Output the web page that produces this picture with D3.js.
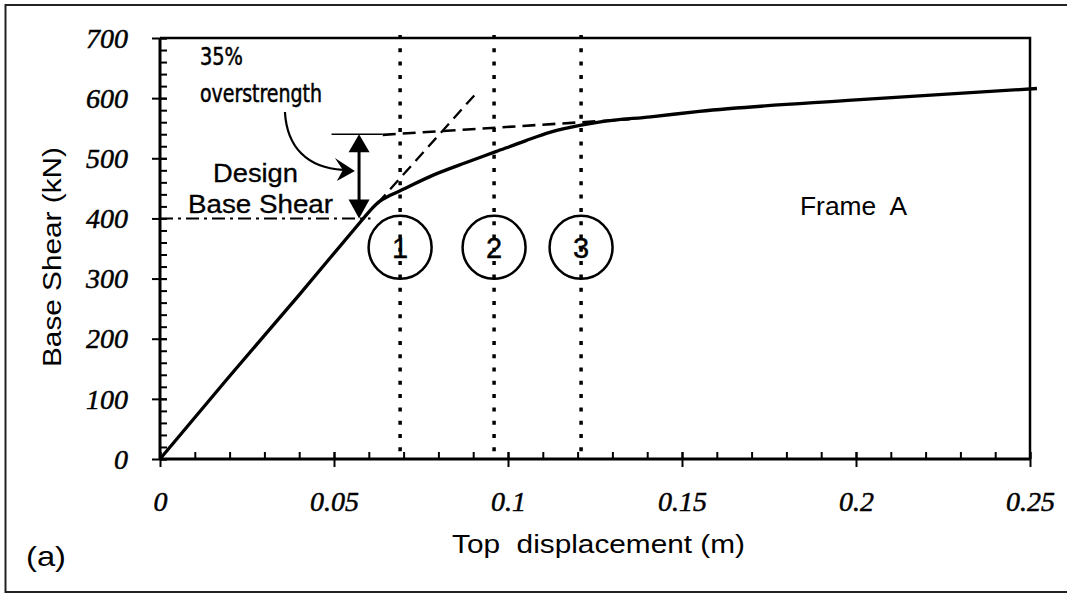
<!DOCTYPE html>
<html>
<head>
<meta charset="utf-8">
<script src="https://cdn.jsdelivr.net/npm/d3@7"></script>
<style>
  html, body { margin: 0; padding: 0; background: #fff; }
  svg { display: block; }
  text { fill: #000; }
</style>
</head>
<body>
<svg id="chart" width="1067" height="594"></svg>
<script>
// Pushover curve, Frame A: top displacement (m) vs base shear (kN)
const displacement = [0, 0.019, 0.040, 0.058, 0.0605, 0.063, 0.066, 0.069, 0.0785, 0.088, 0.0965, 0.105, 0.112, 0.121, 0.127, 0.141, 0.155, 0.200, 0.252];
const baseShear    = [0, 131,   273,   397,   414,    428,   438,   446,   472,    493,   511,    529,   543,   555,   561,   569,   578,   597,   616];

// Idealised bilinear branches
const elasticDisp = [0.0625, 0.091];
const elasticShear = [425, 609];
const postYieldDisp = [0.064, 0.135];
const postYieldShear = [539, 565];

// Design level and 35 % overstrength level
const designShear = 400;
const overstrengthShear = 540;
const designLineEnd = 0.0605;
const overstrengthLineSpan = [0.0493, 0.064];
const arrowDisp = 0.0572;

// Performance points 1, 2, 3
const stageDisp = [0.069, 0.096, 0.121];
const stageLabels = ["1", "2", "3"];
const stageLevel = 352;

// Axis ticks
const xTicks = [0, 0.05, 0.1, 0.15, 0.2, 0.25];
const xTickLabels = ["0", "0.05", "0.1", "0.15", "0.2", "0.25"];
const xMinorTicks = d3.range(0, 0.2501, 0.01);
const yTicks = [0, 100, 200, 300, 400, 500, 600, 700];
const yTickLabels = ["0", "100", "200", "300", "400", "500", "600", "700"];
const yMinorTicks = d3.range(0, 701, 20);

const svg = d3.select("#chart");
const W = 1067, H = 594;
const plot = { left: 160, right: 1030, top: 38, bottom: 459 };

const x = d3.scaleLinear().domain([0, 0.25]).range([plot.left, plot.right]);
const y = d3.scaleLinear().domain([0, 700]).range([plot.bottom, plot.top]);

const sans = "'Liberation Sans', Arial, Helvetica, sans-serif";
const serif = "'Liberation Serif', 'Times New Roman', serif";
const narrow = "'Liberation Sans Narrow', 'DejaVu Sans Condensed', 'Liberation Sans', sans-serif";

// Outer frame
svg.append("path")
  .attr("d", `M${W + 2},5 H5.5 V592 H${W + 2}`)
  .attr("fill", "none").attr("stroke", "#222").attr("stroke-width", 2);

// Plot frame (top and right)
svg.append("path")
  .attr("d", `M${plot.left},${plot.top} H${plot.right} V${plot.bottom}`)
  .attr("fill", "none").attr("stroke", "#000").attr("stroke-width", 2.5);

// Minor ticks (inside)
svg.append("g")
  .attr("transform", `translate(${plot.left},0)`)
  .call(d3.axisLeft(y).tickValues(yMinorTicks).tickSize(-7).tickFormat(""))
  .call(g => g.select(".domain").remove())
  .selectAll("line").attr("stroke", "#000").attr("stroke-width", 2);

svg.append("g")
  .attr("transform", `translate(0,${plot.bottom})`)
  .call(d3.axisBottom(x).tickValues(xMinorTicks).tickSize(-7).tickFormat(""))
  .call(g => g.select(".domain").remove())
  .selectAll("line").attr("stroke", "#000").attr("stroke-width", 2);

// Major ticks crossing the axes, with labels
const yAxis = svg.append("g")
  .attr("transform", `translate(${plot.left},0)`)
  .call(d3.axisLeft(y).tickValues(yTicks).tickFormat((d, i) => yTickLabels[i]).tickSize(8).tickPadding(24));
yAxis.select(".domain").attr("d", `M0,${plot.top}V${plot.bottom}`).attr("stroke", "#000").attr("stroke-width", 3);
yAxis.selectAll(".tick line").attr("x1", -8).attr("x2", 7).attr("stroke", "#000").attr("stroke-width", 2);
yAxis.selectAll(".tick text")
  .attr("font-family", serif).attr("font-style", "italic").attr("font-size", 28)
  .attr("fill", "#000").attr("stroke", "#000").attr("stroke-width", 0.5)
  .attr("dy", "0.33em");

const xAxis = svg.append("g")
  .attr("transform", `translate(0,${plot.bottom})`)
  .call(d3.axisBottom(x).tickValues(xTicks).tickFormat((d, i) => xTickLabels[i]).tickSize(8).tickPadding(30));
xAxis.select(".domain").attr("d", `M${plot.left},0H${plot.right}`).attr("stroke", "#000").attr("stroke-width", 3);
xAxis.selectAll(".tick line").attr("y1", -7).attr("y2", 8).attr("stroke", "#000").attr("stroke-width", 2);
xAxis.selectAll(".tick text")
  .attr("font-family", serif).attr("font-style", "italic").attr("font-size", 28)
  .attr("fill", "#000").attr("stroke", "#000").attr("stroke-width", 0.5)
  .attr("dy", "0.5em");

// Dotted verticals at stages 1-3
svg.append("g").selectAll("line")
  .data(stageDisp).join("line")
  .attr("x1", d => x(d)).attr("x2", d => x(d))
  .attr("y1", plot.top - 3).attr("y2", plot.bottom)
  .attr("stroke", "#000").attr("stroke-width", 3.5)
  .attr("stroke-dasharray", "4 9.3");

// Stage circles
const stages = svg.append("g");
stages.selectAll("circle")
  .data(stageDisp).join("circle")
  .attr("cx", d => x(d)).attr("cy", y(stageLevel)).attr("r", 31.5)
  .attr("fill", "none").attr("stroke", "#000").attr("stroke-width", 2.5);
stages.selectAll("text")
  .data(stageDisp).join("text")
  .attr("x", d => x(d)).attr("y", y(stageLevel) + 10.5)
  .attr("text-anchor", "middle")
  .attr("font-family", sans).attr("font-size", 29)
  .attr("stroke", "#000").attr("stroke-width", 0.4)
  .text((d, i) => stageLabels[i]);

// Design base shear level (dash-dot)
svg.append("line")
  .attr("x1", x(0)).attr("x2", x(designLineEnd))
  .attr("y1", y(designShear)).attr("y2", y(designShear))
  .attr("stroke", "#000").attr("stroke-width", 2)
  .attr("stroke-dasharray", "13 5 3 5");

// Overstrength level (thin solid)
svg.append("line")
  .attr("x1", x(overstrengthLineSpan[0])).attr("x2", x(overstrengthLineSpan[1]))
  .attr("y1", y(overstrengthShear)).attr("y2", y(overstrengthShear))
  .attr("stroke", "#000").attr("stroke-width", 1.6);

// Idealised branches (dashed)
const seg = d3.line().x(d => x(d[0])).y(d => y(d[1]));
svg.append("path")
  .attr("d", seg(elasticDisp.map((d, i) => [d, elasticShear[i]])))
  .attr("fill", "none").attr("stroke", "#000").attr("stroke-width", 2.3)
  .attr("stroke-dasharray", "12 7");
svg.append("path")
  .attr("d", seg(postYieldDisp.map((d, i) => [d, postYieldShear[i]])))
  .attr("fill", "none").attr("stroke", "#000").attr("stroke-width", 2.6)
  .attr("stroke-dasharray", "13 7");

// Capacity curve
const curve = d3.line().x(d => x(d[0])).y(d => y(d[1])).curve(d3.curveMonotoneX);
svg.append("path")
  .attr("d", curve(displacement.map((d, i) => [d, baseShear[i]])))
  .attr("fill", "none").attr("stroke", "#000").attr("stroke-width", 3.3)
  .attr("stroke-linejoin", "round");

// Double-headed arrow between design and overstrength levels
const ax = x(arrowDisp), yTop = y(overstrengthShear), yBot = y(designShear);
svg.append("line")
  .attr("x1", ax).attr("x2", ax).attr("y1", yTop + 12).attr("y2", yBot - 12)
  .attr("stroke", "#000").attr("stroke-width", 3);
svg.append("path")
  .attr("d", `M${ax},${yTop} L${ax - 10.5},${yTop + 18} L${ax + 10.5},${yTop + 18} Z`)
  .attr("fill", "#000");
svg.append("path")
  .attr("d", `M${ax},${yBot} L${ax - 10.5},${yBot - 19} L${ax + 10.5},${yBot - 19} Z`)
  .attr("fill", "#000");

// Curved pointer from the overstrength note
const ps = [x(0.0359), y(577)], pe = [x(0.0560), y(479)];
svg.append("path")
  .attr("d", `M${ps[0]},${ps[1]} C${ps[0] + 2},${ps[1] + 35} ${ps[0] + 22},${pe[1] - 3} ${pe[0] - 12},${pe[1] - 1}`)
  .attr("fill", "none").attr("stroke", "#000").attr("stroke-width", 2.2);
svg.append("path")
  .attr("d", `M${pe[0]},${pe[1]} L${pe[0] - 20},${pe[1] - 13} L${pe[0] - 12},${pe[1] - 1} L${pe[0] - 18},${pe[1] + 10} Z`)
  .attr("fill", "#000");

// Annotations
const note = svg.append("g");
note.append("text").attr("x", 200).attr("y", 65)
  .attr("font-family", narrow).attr("font-size", 24)
  .attr("stroke", "#000").attr("stroke-width", 0.5)
  .attr("textLength", 43).attr("lengthAdjust", "spacingAndGlyphs")
  .text("35%");
note.append("text").attr("x", 200).attr("y", 101.5)
  .attr("font-family", narrow).attr("font-size", 24)
  .attr("stroke", "#000").attr("stroke-width", 0.5)
  .attr("textLength", 122).attr("lengthAdjust", "spacingAndGlyphs")
  .text("overstrength");
note.append("text").attr("x", 213).attr("y", 182)
  .attr("font-family", sans).attr("font-size", 25)
  .attr("stroke", "#000").attr("stroke-width", 0.3)
  .attr("textLength", 85).attr("lengthAdjust", "spacingAndGlyphs")
  .text("Design");
note.append("text").attr("x", 188).attr("y", 213)
  .attr("font-family", sans).attr("font-size", 25)
  .attr("stroke", "#000").attr("stroke-width", 0.3)
  .attr("textLength", 145).attr("lengthAdjust", "spacingAndGlyphs")
  .text("Base Shear");
note.append("text").attr("x", 800).attr("y", 215)
  .attr("font-family", sans).attr("font-size", 25)
  .attr("textLength", 107).attr("lengthAdjust", "spacingAndGlyphs")
  .style("white-space", "pre")
  .text("Frame  A");

// Axis titles
svg.append("text")
  .attr("transform", "translate(61,257) rotate(-90)")
  .attr("text-anchor", "middle")
  .attr("font-family", sans).attr("font-size", 25)
  .attr("textLength", 220).attr("lengthAdjust", "spacingAndGlyphs")
  .text("Base Shear (kN)");
svg.append("text")
  .attr("x", 452).attr("y", 553)
  .attr("font-family", sans).attr("font-size", 25)
  .attr("textLength", 293).attr("lengthAdjust", "spacingAndGlyphs")
  .style("white-space", "pre")
  .text("Top  displacement (m)");

// Panel tag
svg.append("text")
  .attr("x", 26).attr("y", 566)
  .attr("font-family", sans).attr("font-size", 28)
  .attr("textLength", 40).attr("lengthAdjust", "spacingAndGlyphs")
  .text("(a)");
</script>
</body>
</html>
